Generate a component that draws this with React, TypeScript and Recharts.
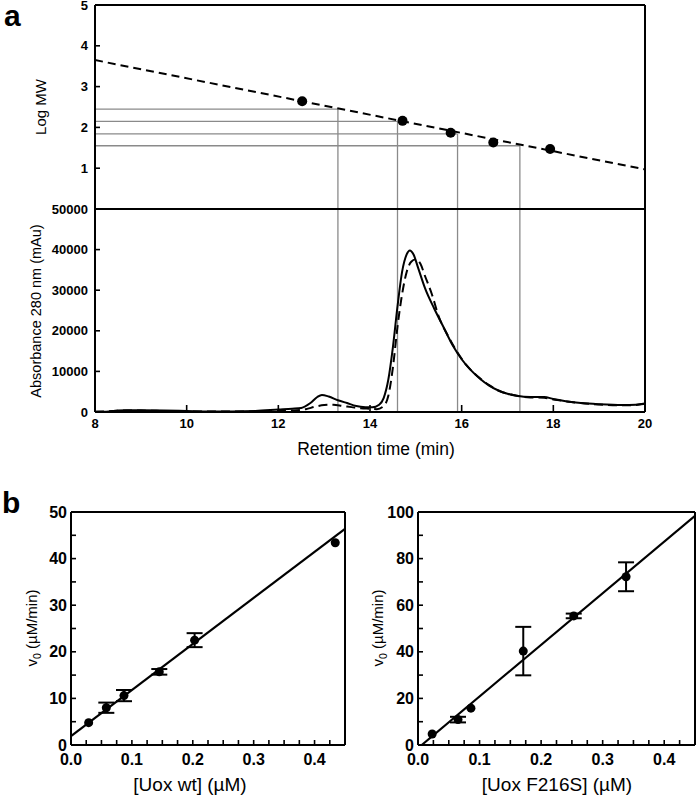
import React from "react";
import { ComposedChart, Line, Scatter, XAxis, YAxis, ReferenceLine, ErrorBar } from "recharts";

const FONT = "'Liberation Sans', Arial, Helvetica, sans-serif";

// ---- panel a: calibration standards (retention time vs log MW)
const STD_TIME = [12.52, 14.71, 15.76, 16.69, 17.93];
const STD_LOGMW = [2.64, 2.16, 1.87, 1.63, 1.47];
const FIT_TIME = [8, 20];
const FIT_LOGMW = [3.65, 0.97];
const PEAK_TIME = [13.3, 14.6, 15.91, 17.27];
const PEAK_LOGMW = [2.45, 2.15, 1.84, 1.55];

// ---- panel a: chromatograms
const RT_SOLID = [8, 8.3, 8.5, 8.7, 9, 9.5, 10, 10.5, 11, 11.5, 12, 12.3, 12.5, 12.7, 12.85, 12.95, 13.1, 13.3, 13.5, 13.7, 13.9, 14.05, 14.2, 14.3, 14.4, 14.5, 14.6, 14.7, 14.8, 14.87, 14.95, 15.05, 15.2, 15.4, 15.6, 15.8, 16, 16.2, 16.4, 16.6, 16.8, 17, 17.2, 17.5, 17.8, 18, 18.3, 18.6, 19, 19.5, 19.8, 20];
const ABS_SOLID = [50, 150, 350, 450, 420, 350, 250, 150, 150, 250, 600, 800, 1000, 2200, 3700, 4200, 3800, 2900, 2200, 1500, 1200, 1150, 1800, 3500, 8000, 16000, 26000, 34500, 38800, 39800, 38800, 35500, 30500, 25500, 21000, 16500, 13000, 10300, 8200, 6500, 5300, 4500, 4000, 3700, 3700, 3200, 2600, 2200, 1900, 1700, 1800, 2100];
const RT_DASHED = [8, 8.5, 8.7, 9, 9.5, 10, 10.5, 11, 11.5, 12, 12.4, 12.6, 12.8, 13, 13.2, 13.4, 13.6, 13.8, 14, 14.15, 14.3, 14.4, 14.5, 14.6, 14.7, 14.8, 14.9, 15, 15.1, 15.2, 15.35, 15.5, 15.7, 15.9, 16.1, 16.4, 16.6, 16.8, 17, 17.2, 17.5, 17.8, 18, 18.3, 18.6, 19, 19.5, 19.8, 20];
const ABS_DASHED = [50, 300, 400, 350, 250, 150, 100, 100, 150, 300, 450, 700, 1300, 1700, 1800, 1500, 1200, 900, 800, 700, 1500, 4000, 11000, 21000, 29000, 34500, 37000, 37600, 36500, 33500, 29000, 23500, 18800, 14800, 11600, 8300, 6600, 5300, 4500, 4000, 3600, 3500, 3100, 2600, 2200, 1850, 1650, 1750, 2050];

const TIME_TICKS = [8, 10, 12, 14, 16, 18, 20];
const TIME_INNER = [10, 12, 14, 16, 18];
const LOGMW_TICKS = [1, 2, 3, 4, 5];
const LOGMW_INNER = [1, 2, 3, 4];
const ABS_TICKS = [0, 10000, 20000, 30000, 40000, 50000];
const ABS_INNER = [10000, 20000, 30000, 40000];

// ---- panel b: activity vs enzyme concentration
const WT_CONC = [0.029, 0.058, 0.087, 0.145, 0.203, 0.434];
const WT_V0 = [4.8, 8.0, 10.6, 15.7, 22.5, 43.4];
const WT_ERR = [0, 1.1, 1.2, 0.6, 1.5, 0];
const WT_FIT_CONC = [0, 0.45];
const WT_FIT_V0 = [1.9, 46.4];

const F_CONC = [0.023, 0.065, 0.086, 0.171, 0.253, 0.338];
const F_V0 = [4.7, 10.9, 15.8, 40.3, 55.4, 72.2];
const F_ERR = [0, 1.2, 0, 10.4, 1.0, 6.2];
const F_FIT_CONC = [0.006, 0.45];
const F_FIT_V0 = [0, 98.4];

const CONC_TICKS = [0, 0.025, 0.05, 0.075, 0.1, 0.125, 0.15, 0.175, 0.2, 0.225, 0.25, 0.275, 0.3, 0.325, 0.35, 0.375, 0.4, 0.425, 0.45];
const WT_TICKS = [0, 5, 10, 15, 20, 25, 30, 35, 40, 45, 50];
const F_TICKS = [0, 10, 20, 30, 40, 50, 60, 70, 80, 90, 100];

const pts = (xs: number[], ys: number[], es?: number[]) =>
  xs.map((x, i) => ({ x, y: ys[i], e: es ? es[i] : 0 }));

const AXIS = { stroke: "#000", strokeWidth: 2 };
const TICKLINE = { stroke: "#000", strokeWidth: 1.6 };
const tickA = { fontSize: 13, fontFamily: FONT, fill: "#000", fontWeight: 700 };
const tickB = { fontSize: 16, fontFamily: FONT, fill: "#000", fontWeight: 700 };

// axis title drawn at a fixed spot inside the chart svg
const Title = ({ lx, ly, txt, fs, rot, sub }: any) => (
  <text
    x={lx}
    y={ly}
    textAnchor="middle"
    fontFamily={FONT}
    fontSize={fs}
    fill="#000"
    transform={rot ? `rotate(${rot}, ${lx}, ${ly})` : undefined}
  >
    {sub ? (
      <>
        <tspan>v</tspan>
        <tspan fontSize={fs * 0.7} dy={4}>0</tspan>
        <tspan dy={-4}>{" " + txt}</tspan>
      </>
    ) : (
      txt
    )}
  </text>
);

const Dot = (r: number) => (p: any) => <circle cx={p.cx} cy={p.cy} r={r} fill="#000" />;

function PanelA() {
  const std = pts(STD_TIME, STD_LOGMW);
  const fit = pts(FIT_TIME, FIT_LOGMW);
  const solid = pts(RT_SOLID, ABS_SOLID);
  const dashed = pts(RT_DASHED, ABS_DASHED);
  return (
    <>
      <div style={{ position: "absolute", left: 0, top: -10 }}>
        <ComposedChart width={697} height={225} margin={{ top: 0, right: 0, bottom: 0, left: 0 }}>
          <XAxis xAxisId="b" dataKey="x" type="number" domain={[8, 20]} ticks={TIME_INNER} interval={0}
            height={6} tick={false} tickSize={-7} axisLine={AXIS} tickLine={TICKLINE} allowDataOverflow />
          <XAxis xAxisId="t" orientation="top" dataKey="x" type="number" domain={[8, 20]} ticks={TIME_INNER} interval={0}
            height={15} tick={false} tickSize={-7} axisLine={AXIS} tickLine={TICKLINE} allowDataOverflow />
          <YAxis yAxisId="l" dataKey="y" type="number" domain={[0, 5]} ticks={LOGMW_TICKS} interval={0}
            width={95} tickSize={-5} tickMargin={12} tick={tickA} axisLine={AXIS} tickLine={TICKLINE}
            label={<Title lx={46} ly={117} txt="Log MW" fs={15} rot={-90} />} />
          <YAxis yAxisId="r" orientation="right" type="number" domain={[0, 5]} ticks={LOGMW_INNER} interval={0}
            width={52} tick={false} tickSize={-5} axisLine={AXIS} tickLine={TICKLINE} />
          {PEAK_TIME.map((t, i) => (
            <ReferenceLine key={"h" + i} xAxisId="b" yAxisId="l" stroke="#8a8a8a" strokeWidth={1.3}
              segment={[{ x: 8, y: PEAK_LOGMW[i] }, { x: t, y: PEAK_LOGMW[i] }]} />
          ))}
          {PEAK_TIME.map((t, i) => (
            <ReferenceLine key={"v" + i} xAxisId="b" yAxisId="l" stroke="#8a8a8a" strokeWidth={1.3}
              segment={[{ x: t, y: PEAK_LOGMW[i] }, { x: t, y: 0 }]} />
          ))}
          <Line xAxisId="b" yAxisId="l" data={fit} dataKey="y" type="linear" stroke="#000" strokeWidth={2}
            strokeDasharray="8 5" dot={false} isAnimationActive={false} />
          <Scatter xAxisId="b" yAxisId="l" data={std} dataKey="y" fill="#000" shape={Dot(5)} isAnimationActive={false} />
        </ComposedChart>
      </div>
      <div style={{ position: "absolute", left: 0, top: 200 }}>
        <ComposedChart width={697} height={265} margin={{ top: 0, right: 0, bottom: 0, left: 0 }}>
          <XAxis xAxisId="b" dataKey="x" type="number" domain={[8, 20]} ticks={TIME_TICKS} interval={0}
            height={53} tickSize={-7} tickMargin={14} tick={tickA} axisLine={AXIS} tickLine={TICKLINE} allowDataOverflow
            label={<Title lx={376} ly={255} txt="Retention time (min)" fs={17.5} />} />
          <XAxis xAxisId="t" orientation="top" type="number" domain={[8, 20]} ticks={TIME_INNER} interval={0}
            height={9} tick={false} tickSize={-7} axisLine={AXIS} tickLine={TICKLINE} />
          <YAxis yAxisId="l" dataKey="y" type="number" domain={[0, 50000]} ticks={ABS_TICKS} interval={0}
            width={95} tickSize={-5} tickMargin={12} tick={tickA} axisLine={AXIS} tickLine={TICKLINE} allowDataOverflow
            label={<Title lx={41} ly={111} txt="Absorbance 280 nm (mAu)" fs={14.5} rot={-90} />} />
          <YAxis yAxisId="r" orientation="right" type="number" domain={[0, 50000]} ticks={ABS_INNER} interval={0}
            width={52} tick={false} tickSize={-5} axisLine={AXIS} tickLine={TICKLINE} />
          {PEAK_TIME.map((t, i) => (
            <ReferenceLine key={i} xAxisId="b" yAxisId="l" x={t} stroke="#8a8a8a" strokeWidth={1.3} />
          ))}
          <Line xAxisId="b" yAxisId="l" data={dashed} dataKey="y" type="monotone" stroke="#000" strokeWidth={2}
            strokeDasharray="9 5" dot={false} isAnimationActive={false} />
          <Line xAxisId="b" yAxisId="l" data={solid} dataKey="y" type="monotone" stroke="#000" strokeWidth={2}
            dot={false} isAnimationActive={false} />
        </ComposedChart>
      </div>
    </>
  );
}

function Kinetics({ left, plotLeft, plotRight, yMax, yTicks, labelEvery, data, fit, xTitle, xTitleX, vX }: any) {
  const width = 352;
  return (
    <div style={{ position: "absolute", left, top: 480 }}>
      <ComposedChart width={width} height={315} margin={{ top: 0, right: 0, bottom: 0, left: 0 }}>
        <XAxis xAxisId="b" dataKey="x" type="number" domain={[0, 0.45]} ticks={CONC_TICKS} interval={0}
          height={50} tickSize={-5} tickMargin={14} tick={tickB} axisLine={AXIS} tickLine={TICKLINE} allowDataOverflow
          tickFormatter={(v: number) => (Math.abs(v * 10 - Math.round(v * 10)) < 1e-9 ? v.toFixed(1) : "")}
          label={<Title lx={xTitleX} ly={311} txt={xTitle} fs={19} />} />
        <XAxis xAxisId="t" orientation="top" type="number" domain={[0, 0.45]} ticks={CONC_TICKS} interval={0}
          height={32} tick={false} tickSize={-5} axisLine={AXIS} tickLine={TICKLINE} />
        <YAxis yAxisId="l" dataKey="y" type="number" domain={[0, yMax]} ticks={yTicks} interval={0}
          width={plotLeft} tickSize={-5} tickMargin={9} tick={tickB} axisLine={AXIS} tickLine={TICKLINE} allowDataOverflow
          tickFormatter={(v: number) => (v % labelEvery === 0 ? String(v) : "")}
          label={<Title lx={vX} ly={148} txt="(µM/min)" fs={15} rot={-90} sub />} />
        <YAxis yAxisId="r" orientation="right" type="number" domain={[0, yMax]} ticks={yTicks} interval={0}
          width={width - plotRight} tick={false} tickSize={-5} axisLine={AXIS} tickLine={TICKLINE} />
        <Line xAxisId="b" yAxisId="l" data={fit} dataKey="y" type="linear" stroke="#000" strokeWidth={2.2}
          dot={false} isAnimationActive={false} />
        <Scatter xAxisId="b" yAxisId="l" data={data} dataKey="y" fill="#000" shape={Dot(4.5)} isAnimationActive={false}>
          <ErrorBar dataKey="e" direction="y" width={8} stroke="#000" strokeWidth={2} isAnimationActive={false} />
        </Scatter>
      </ComposedChart>
    </div>
  );
}

export default function App() {
  const letter = { position: "absolute" as const, fontFamily: FONT, fontWeight: 700, fontSize: 30, lineHeight: "30px" };
  return (
    <div style={{ position: "absolute", left: 0, top: 0, width: 697, height: 795, background: "#fff", overflow: "hidden" }}>
      <PanelA />
      <Kinetics left={0} plotLeft={71} plotRight={345} yMax={50} yTicks={WT_TICKS} labelEvery={10}
        data={pts(WT_CONC, WT_V0, WT_ERR)} fit={pts(WT_FIT_CONC, WT_FIT_V0)}
        xTitle="[Uox wt] (µM)" xTitleX={190} vX={37} />
      <Kinetics left={345} plotLeft={73} plotRight={350} yMax={100} yTicks={F_TICKS} labelEvery={20}
        data={pts(F_CONC, F_V0, F_ERR)} fit={pts(F_FIT_CONC, F_FIT_V0)}
        xTitle="[Uox F216S] (µM)" xTitleX={212} vX={38} />
      <div style={{ ...letter, left: 4, top: 1 }}>a</div>
      <div style={{ ...letter, left: 2, top: 488 }}>b</div>
    </div>
  );
}
